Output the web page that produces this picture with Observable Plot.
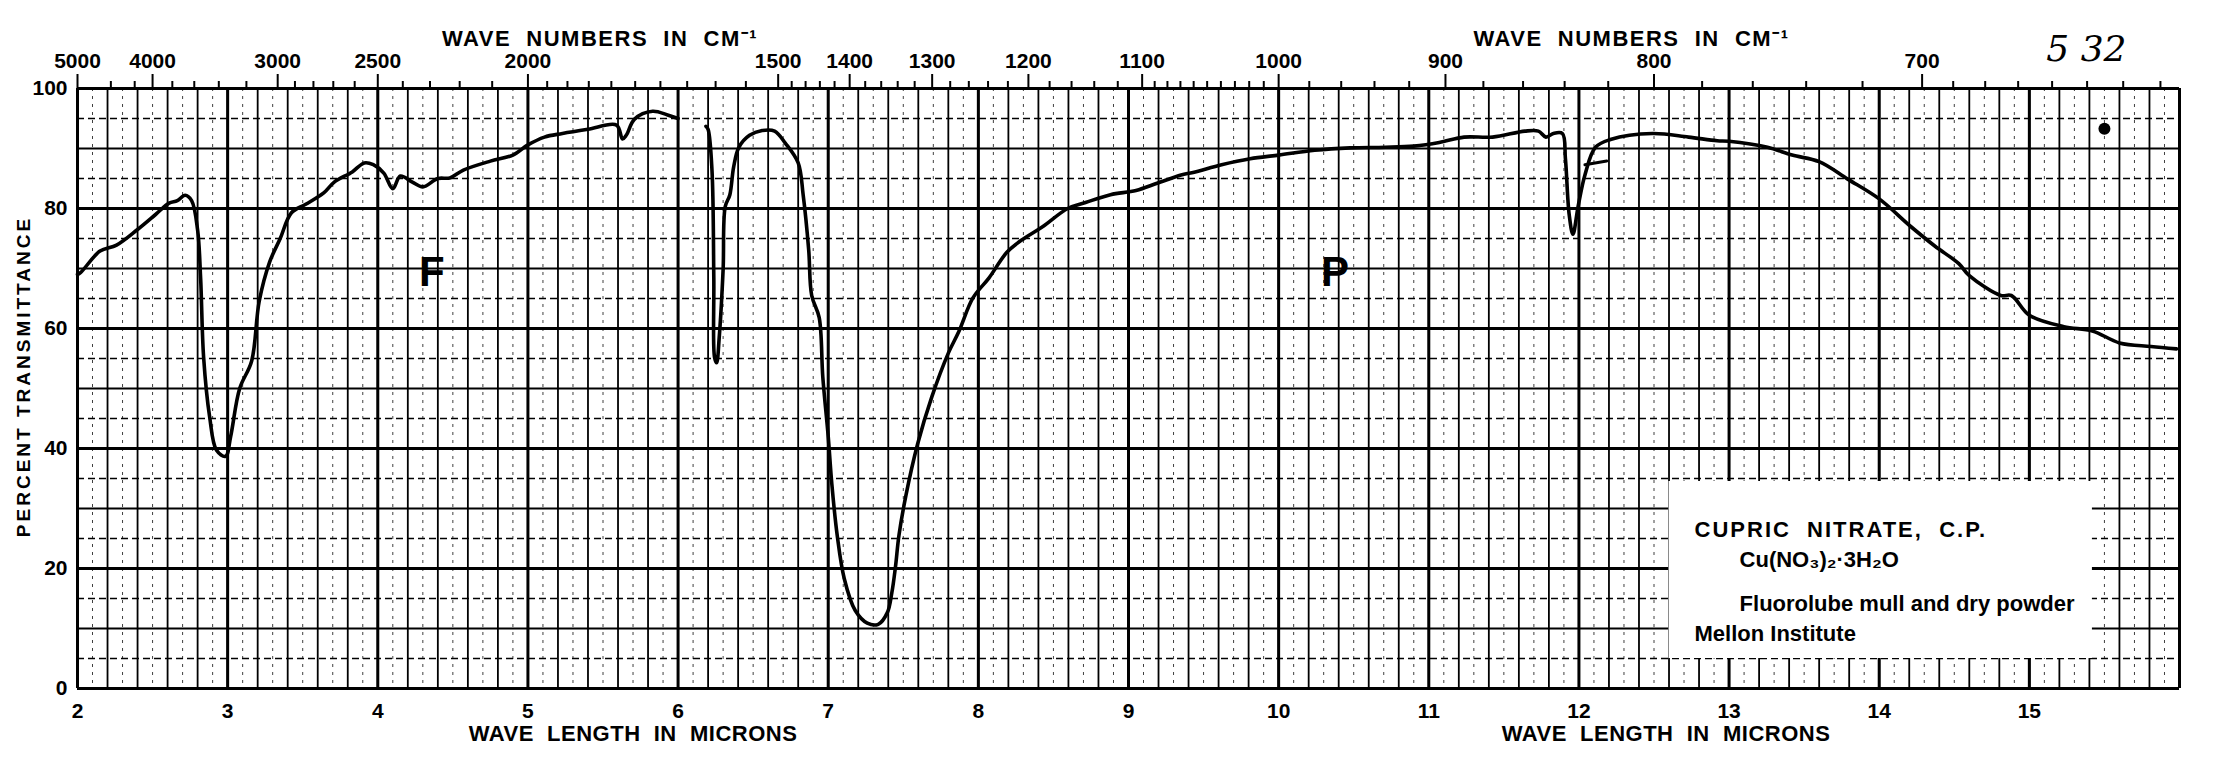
<!DOCTYPE html>
<html>
<head>
<meta charset="utf-8">
<script src="https://cdn.jsdelivr.net/npm/d3@7"></script>
<script src="https://cdn.jsdelivr.net/npm/@observablehq/plot@0.6"></script>
<style>
  html, body { margin: 0; padding: 0; background: #fff; }
</style>
</head>
<body>
<div id="chart"></div>
<script>
// ---- Spectrum trace (wavelength in microns, percent transmittance) ----
// first pen segment (Fluorolube mull region)
const traceA_wl = [2.0, 2.02, 2.15, 2.26, 2.40, 2.52, 2.61, 2.665, 2.717, 2.76, 2.80, 2.82, 2.84, 2.88, 2.926, 2.986, 3.02, 3.08, 3.16, 3.21, 3.28, 3.35, 3.425, 3.52, 3.64, 3.71, 3.83, 3.91, 3.97, 4.04, 4.10, 4.15, 4.23, 4.30, 4.40, 4.48, 4.57, 4.75, 4.90, 5.00, 5.11, 5.23, 5.40, 5.59, 5.63, 5.655, 5.71, 5.83, 5.93, 6.0];
const traceA_t  = [69.0, 69.3, 72.9, 73.9, 76.5, 79.0, 80.9, 81.3, 82.2, 81.3, 76.4, 68.4, 55.2, 45.3, 39.7, 38.7, 42.0, 50.0, 54.6, 64.5, 71.1, 75.0, 79.3, 80.7, 82.6, 84.4, 86.1, 87.6, 87.3, 85.9, 83.3, 85.4, 84.4, 83.6, 85.0, 85.1, 86.4, 87.9, 88.9, 90.6, 91.9, 92.5, 93.2, 93.9, 91.6, 92.2, 94.9, 96.2, 95.6, 95.0];
// second pen segment (dry powder region)
const traceB_wl = [6.186, 6.20, 6.226, 6.238, 6.243, 6.257, 6.274, 6.30, 6.314, 6.345, 6.37, 6.405, 6.476, 6.56, 6.643, 6.714, 6.80, 6.833, 6.87, 6.89, 6.94, 6.964, 7.0, 7.024, 7.06, 7.107, 7.18, 7.26, 7.333, 7.393, 7.424, 7.448, 7.471, 7.517, 7.595, 7.69, 7.80, 7.87, 7.964, 8.07, 8.19, 8.286, 8.43, 8.595, 8.714, 8.88, 9.05, 9.19, 9.35, 9.43, 9.62, 9.81, 10.0, 10.24, 10.475, 10.71, 10.9, 11.07, 11.235, 11.425, 11.64, 11.73, 11.78, 11.83, 11.89, 11.91, 11.935, 11.96, 11.995, 12.04, 12.11, 12.21, 12.49, 12.73, 12.92, 13.0, 13.256, 13.42, 13.6, 13.79, 14.0, 14.21, 14.37, 14.53, 14.6, 14.81, 14.88, 15.0, 15.23, 15.42, 15.6, 15.81, 15.98];
const traceB_t  = [93.7, 93.2, 86.3, 68.4, 55.2, 54.3, 58.5, 69.8, 80.3, 82.3, 86.9, 90.2, 92.2, 93.0, 92.9, 90.9, 87.6, 82.3, 73.1, 65.5, 61.8, 51.9, 42.0, 34.1, 25.5, 18.3, 13.0, 10.9, 10.7, 12.6, 16.0, 20.3, 25.5, 32.1, 40.7, 48.6, 55.9, 59.5, 65.1, 68.4, 72.7, 74.7, 77.0, 80.0, 81.0, 82.3, 83.0, 84.2, 85.6, 86.0, 87.3, 88.3, 88.9, 89.7, 90.1, 90.2, 90.4, 91.0, 91.9, 91.9, 92.9, 92.9, 91.9, 92.5, 92.5, 88.3, 79.0, 75.7, 80.4, 85.6, 90.2, 91.5, 92.5, 91.9, 91.3, 91.2, 90.2, 88.9, 87.8, 84.9, 81.6, 77.0, 73.75, 70.8, 68.8, 65.5, 65.5, 62.2, 60.3, 59.6, 57.6, 57.0, 56.6];
// short overlapping pen stub near 12 microns
const traceC_wl = [12.04, 12.185];
const traceC_t  = [87.3, 87.9];

// ---- Axis tick values ----
const wavelengthLabels = [2, 3, 4, 5, 6, 7, 8, 9, 10, 11, 12, 13, 14, 15];
const transmittanceLabels = [0, 20, 40, 60, 80, 100];
const wavenumberLabels = [5000, 4000, 3000, 2500, 2000, 1500, 1400, 1300, 1200, 1100, 1000, 900, 800, 700];
const wavenumberMinor = [4500, 4200, 3800, 3600, 3400, 3200, 2900, 2800, 2700, 2600, 2400, 2300, 2200, 2100,
  1950, 1900, 1850, 1800, 1750, 1700, 1650, 1600, 1550,
  1480, 1460, 1440, 1420, 1380, 1360, 1340, 1320, 1280, 1260, 1240, 1220, 1180, 1160, 1140, 1120,
  1090, 1080, 1070, 1060, 1050, 1040, 1030, 1020, 1010,
  980, 960, 940, 920, 880, 860, 840, 820, 780, 760, 740, 720, 690, 680, 670, 660, 650, 640, 630];

// ---- Chart-paper grid ----
const gridMicronMajor = d3.range(2, 16.001, 1);
const gridMicron02 = d3.range(2, 16.001, 0.2).map(v => +v.toFixed(1));
const gridMicron01 = d3.range(2.1, 16, 0.2).map(v => +v.toFixed(1));
const gridT20 = d3.range(0, 100.1, 20);
const gridT10 = d3.range(10, 100, 20);
const gridT5 = d3.range(5, 100, 10);

// ---- Annotations ----
const topTitles = [{x: 5.48, text: "WAVE\u00a0 NUMBERS\u00a0 IN\u00a0 CM\u207b\u00b9"}, {x: 12.35, text: "WAVE\u00a0 NUMBERS\u00a0 IN\u00a0 CM\u207b\u00b9"}];
const bottomTitles = [{x: 5.70, text: "WAVE\u00a0 LENGTH\u00a0 IN\u00a0 MICRONS"}, {x: 12.58, text: "WAVE\u00a0 LENGTH\u00a0 IN\u00a0 MICRONS"}];
const regionLetters = [{x: 4.36, y: 69.3, text: "F"}, {x: 10.375, y: 69.3, text: "P"}];
const labelBox = [{x1: 12.6, x2: 15.42, y1: 5, y2: 34.5}];
const boxLines = [
  {x: 12.77, y: 25.3, text: "CUPRIC\u00a0 NITRATE,\u00a0 C.P."},
  {x: 13.07, y: 20.2, text: "Cu(NO\u2083)\u2082\u00b73H\u2082O"},
  {x: 13.07, y: 13.0, text: "Fluorolube mull and dry powder"},
  {x: 12.77, y: 8.0, text: "Mellon Institute"}
];
const inkSpots = [{x: 15.5, y: 93.3}];
const sheetNumber = [{x: 15.38, text: "5 32"}];
const yTitle = [{y: 52, text: "PERCENT TRANSMITTANCE"}];

const toPts = (wl, t) => wl.map((w, i) => ({wl: w, t: t[i]}));
const segA = toPts(traceA_wl, traceA_t);
const segB = toPts(traceB_wl, traceB_t);
const segC = toPts(traceC_wl, traceC_t);

const FONT = "'Liberation Sans', Arial, sans-serif";

const chart = Plot.plot({
  width: 2228,
  height: 759,
  marginLeft: 77,
  marginRight: 49,
  marginTop: 88,
  marginBottom: 71,
  x: {domain: [2, 16], axis: null},
  y: {domain: [0, 100], axis: null},
  style: {fontFamily: FONT, fontWeight: "bold", color: "#000", background: "#fff", overflow: "visible"},
  marks: [
    // paper grid
    Plot.ruleX(gridMicron01, {stroke: "#000", strokeWidth: 1, strokeDasharray: "3,5", strokeOpacity: 0.75}),
    Plot.ruleY(gridT5, {stroke: "#000", strokeWidth: 1.3, strokeDasharray: "7,4"}),
    Plot.ruleX(gridMicron02, {stroke: "#000", strokeWidth: 1.8}),
    Plot.ruleY(gridT10, {stroke: "#000", strokeWidth: 2}),
    Plot.ruleX(gridMicronMajor, {stroke: "#000", strokeWidth: 3}),
    Plot.ruleY(gridT20, {stroke: "#000", strokeWidth: 3.2}),
    // pasted label
    Plot.rect(labelBox, {x1: "x1", x2: "x2", y1: "y1", y2: "y2", fill: "#fff"}),
    Plot.text(boxLines, {x: "x", y: "y", text: "text", textAnchor: "start", lineAnchor: "bottom", fontSize: 22, fill: "#000"}),
    // spectrum trace
    Plot.line(segA, {x: "wl", y: "t", stroke: "#000", strokeWidth: 3.6, curve: "catmull-rom", strokeLinejoin: "round", strokeLinecap: "round"}),
    Plot.line(segB, {x: "wl", y: "t", stroke: "#000", strokeWidth: 3.6, curve: "catmull-rom", strokeLinejoin: "round", strokeLinecap: "round"}),
    Plot.line(segC, {x: "wl", y: "t", stroke: "#000", strokeWidth: 3, strokeLinecap: "round"}),
    Plot.dot(inkSpots, {x: "x", y: "y", r: 6, fill: "#000"}),
    // region letters
    Plot.text(regionLetters, {x: "x", y: "y", text: "text", fontSize: 42, fill: "#000"}),
    // top wavenumber axis
    Plot.axisX(wavenumberMinor.map(w => 10000 / w), {anchor: "top", tickSize: 8, strokeWidth: 2, tickFormat: () => "", label: null}),
    Plot.axisX(wavenumberLabels.map(w => 10000 / w), {anchor: "top", tickSize: 15, strokeWidth: 2, tickPadding: 6, tickFormat: d => String(Math.round(10000 / d)), fontSize: 21, label: null}),
    // bottom wavelength axis
    Plot.axisX(wavelengthLabels, {anchor: "bottom", tickSize: 0, tickPadding: 15, tickFormat: d => String(d), fontSize: 21, label: null}),
    // left transmittance axis
    Plot.axisY(transmittanceLabels, {anchor: "left", tickSize: 0, tickPadding: 10, tickFormat: d => String(d), fontSize: 21, label: null}),
    // axis titles
    Plot.text(topTitles, {x: "x", text: "text", frameAnchor: "top", dy: -43, lineAnchor: "bottom", fontSize: 22, fill: "#000"}),
    Plot.text(bottomTitles, {x: "x", text: "text", frameAnchor: "bottom", dy: 52, lineAnchor: "bottom", fontSize: 22, fill: "#000"}),
    Plot.text(yTitle, {y: "y", text: "text", frameAnchor: "left", textAnchor: "middle", dx: -54, rotate: -90, fontSize: 19, fill: "#000"}),
    // handwritten sheet number
    Plot.text(sheetNumber, {x: "x", text: "text", frameAnchor: "top", dy: -53, fontSize: 36, fontStyle: "italic", fontWeight: "normal", fontFamily: "'DejaVu Serif', serif", fill: "#000"})
  ]
});

// letter spacing to match the printed chart paper lettering
const spacing = {
  "PERCENT TRANSMITTANCE": "3px",
  "CUPRIC\u00a0 NITRATE,\u00a0 C.P.": "2px",
  "WAVE\u00a0 NUMBERS\u00a0 IN\u00a0 CM\u207b\u00b9": "1.5px",
  "WAVE\u00a0 LENGTH\u00a0 IN\u00a0 MICRONS": "0.5px"
};
d3.select(chart).selectAll("text").each(function () {
  const s = spacing[this.textContent];
  if (s) this.setAttribute("letter-spacing", s);
});

document.getElementById("chart").append(chart);
</script>
</body>
</html>
